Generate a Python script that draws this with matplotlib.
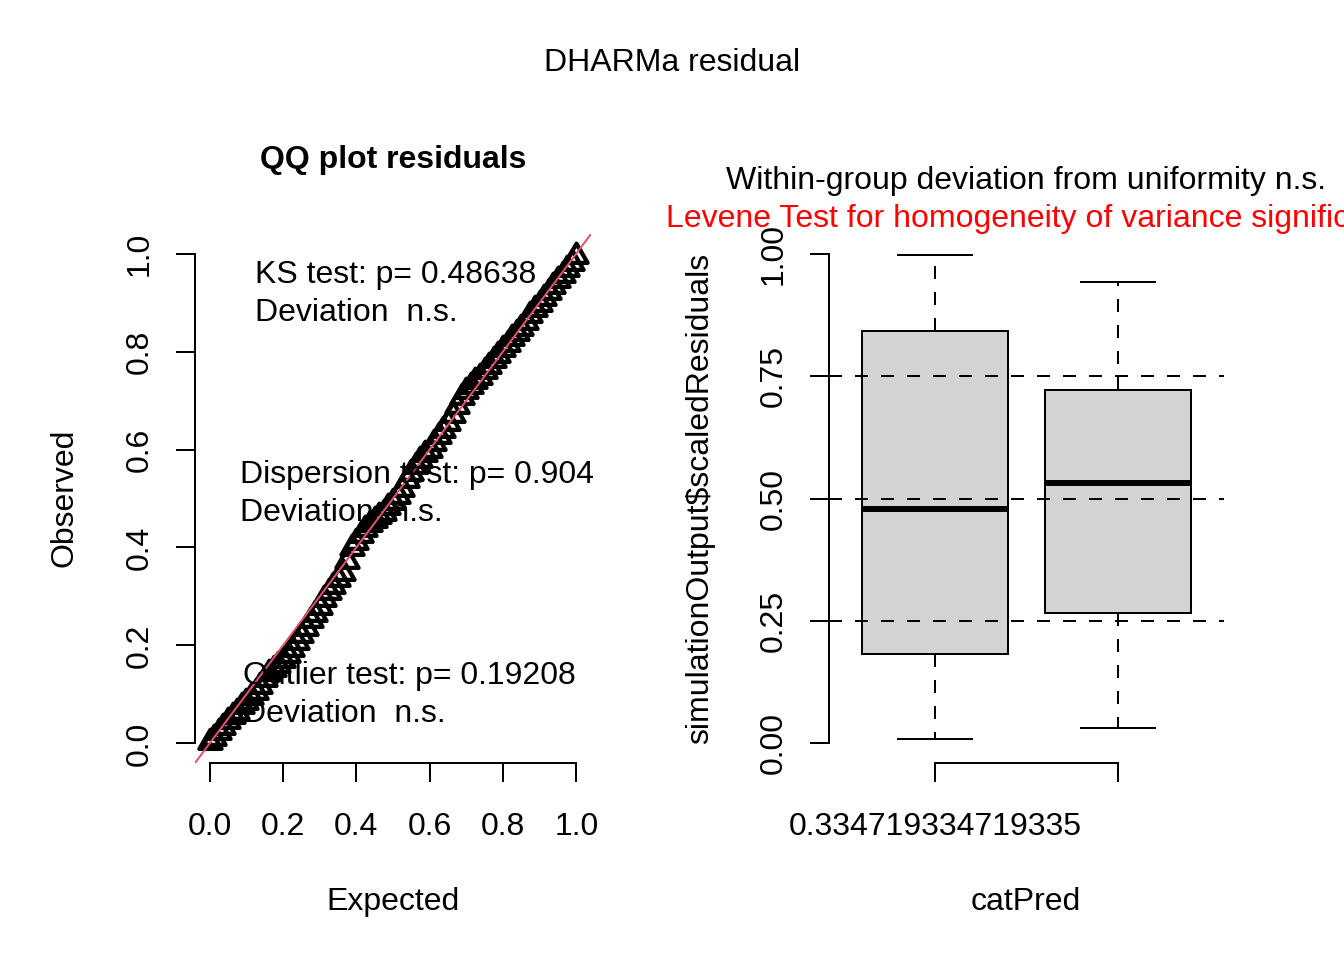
"""
dharma_residuals.py — DHARMa style residual diagnostics: QQ plot + grouped boxplot.
"""

import matplotlib
matplotlib.use("Agg")
import matplotlib.pyplot as plt
from matplotlib.path import Path

plt.rcParams["font.family"] = ["Liberation Sans", "DejaVu Sans"]
plt.rcParams["font.size"] = 12

W, H, DPI = 1344, 960, 192

# QQ plot: expected uniform quantiles vs observed scaled residuals
expected = [
    0.0000, 0.0125, 0.0250, 0.0375, 0.0500, 0.0625, 0.0750, 0.0875, 0.1000, 0.1125,
    0.1250, 0.1375, 0.1500, 0.1625, 0.1750, 0.1875, 0.2000, 0.2125, 0.2250, 0.2375,
    0.2500, 0.2625, 0.2750, 0.2875, 0.3000, 0.3125, 0.3250, 0.3375, 0.3500, 0.3625,
    0.3750, 0.3875, 0.4000, 0.4125, 0.4250, 0.4375, 0.4500, 0.4625, 0.4750, 0.4875,
    0.5000, 0.5125, 0.5250, 0.5375, 0.5500, 0.5625, 0.5750, 0.5875, 0.6000, 0.6125,
    0.6250, 0.6375, 0.6500, 0.6625, 0.6750, 0.6875, 0.7000, 0.7125, 0.7250, 0.7375,
    0.7500, 0.7625, 0.7750, 0.7875, 0.8000, 0.8125, 0.8250, 0.8375, 0.8500, 0.8625,
    0.8750, 0.8875, 0.9000, 0.9125, 0.9250, 0.9375, 0.9500, 0.9625, 0.9750, 0.9875,
    1.0000,
]
observed = [
    0.003, 0.012, 0.023, 0.034, 0.045, 0.055, 0.065, 0.076, 0.085, 0.094,
    0.104, 0.117, 0.131, 0.143, 0.152, 0.161, 0.170, 0.180, 0.193, 0.207,
    0.221, 0.236, 0.251, 0.265, 0.279, 0.294, 0.309, 0.322, 0.335, 0.348,
    0.372, 0.398, 0.411, 0.425, 0.438, 0.448, 0.456, 0.464, 0.471, 0.482,
    0.493, 0.505, 0.520, 0.537, 0.552, 0.567, 0.579, 0.590, 0.600, 0.613,
    0.627, 0.640, 0.655, 0.670, 0.688, 0.707, 0.719, 0.729, 0.739, 0.749,
    0.760, 0.771, 0.782, 0.793, 0.805, 0.816, 0.827, 0.838, 0.848, 0.861,
    0.875, 0.887, 0.898, 0.910, 0.922, 0.934, 0.946, 0.957, 0.969, 0.980,
    0.996,
]
qq_ticks = [0.0, 0.2, 0.4, 0.6, 0.8, 1.0]
qq_tick_labels = ["0.0", "0.2", "0.4", "0.6", "0.8", "1.0"]

ks_lines = ["KS test: p= 0.48638", "Deviation  n.s."]
disp_lines = ["Dispersion test: p= 0.904", "Deviation  n.s."]
outlier_lines = ["Outlier test: p= 0.19208", "Deviation  n.s."]

# Boxplot of residuals by catPred group
group_labels = ["0.334719334719335", ""]
whisker_low = [0.010, 0.031]
q1 = [0.182, 0.266]
median = [0.4785, 0.532]
q3 = [0.8425, 0.722]
whisker_high = [0.998, 0.941]
ref_lines = [0.25, 0.5, 0.75]
box_ticks = [0.0, 0.25, 0.5, 0.75, 1.0]
box_tick_labels = ["0.00", "0.25", "0.50", "0.75", "1.00"]

LW = 0.75          # R lwd=1 at 192 dpi
TICK_LEN = 7.2
DASH = (0, (6.5, 6.5))
RED_LINE = "#DF536B"
BOX_FILL = "#D3D3D3"
LINE_STEP = 38     # px between legend lines


def fx(px):
    return px / W


def fy(py):
    return 1 - py / H


def style_axes(ax, xbounds, ybounds):
    for side in ("top", "right"):
        ax.spines[side].set_visible(False)
    ax.spines["left"].set_bounds(*ybounds)
    ax.spines["bottom"].set_bounds(*xbounds)
    for side in ("left", "bottom"):
        ax.spines[side].set_linewidth(LW)
    ax.tick_params(length=TICK_LEN, width=LW, labelsize=12)
    ax.tick_params(axis="x", pad=11.2)
    ax.tick_params(axis="y", pad=10.5)
    for lab in ax.get_yticklabels():
        lab.set_rotation(90)
        lab.set_rotation_mode("anchor")
        lab.set_horizontalalignment("center")
        lab.set_verticalalignment("baseline")


# equilateral open triangle like R pch=2
tri = Path([(0, 1.155), (-1, -0.577), (1, -0.577), (0, 1.155)],
           [Path.MOVETO, Path.LINETO, Path.LINETO, Path.CLOSEPOLY])


def main() -> None:
    fig = plt.figure(figsize=(W / DPI, H / DPI), dpi=DPI)

    # ---- left: QQ plot ----
    ax1 = fig.add_axes([fx(195), fy(763), fx(591) - fx(195), fy(234) - fy(763)])
    ax1.set_xlim(-0.04, 1.04)
    ax1.set_ylim(-0.04, 1.04)
    ax1.plot(expected, observed, linestyle="none", marker=tri, markersize=9.6,
             markerfacecolor="none", markeredgecolor="black", markeredgewidth=1.6)
    ax1.axline((0, 0), slope=1, color=RED_LINE, linewidth=LW)
    ax1.set_xticks(qq_ticks, qq_tick_labels)
    ax1.set_yticks(qq_ticks, qq_tick_labels)
    style_axes(ax1, (0, 1), (0, 1))

    for lines, x, y in ((ks_lines, 255, 283), (disp_lines, 240, 483), (outlier_lines, 243, 684)):
        for k, line in enumerate(lines):
            fig.text(fx(x), fy(y + k * LINE_STEP), line, ha="left", va="baseline",
                     fontsize=12, zorder=10)

    fig.text(fx(393), fy(168), "QQ plot residuals", ha="center", va="baseline",
             fontsize=12, fontweight="bold")
    fig.text(fx(393), fy(910), "Expected", ha="center", va="baseline", fontsize=12)
    fig.text(fx(72), fy(498), "Observed", ha="center", va="baseline", fontsize=12,
             rotation=90, rotation_mode="anchor")

    # ---- right: boxplot by group ----
    ax2 = fig.add_axes([fx(829), fy(763), fx(1224) - fx(829), fy(234) - fy(763)])
    stats = []
    for i in range(len(group_labels)):
        stats.append({"whislo": whisker_low[i], "q1": q1[i], "med": median[i],
                      "q3": q3[i], "whishi": whisker_high[i], "fliers": []})
    ax2.bxp(stats, positions=[1, 2], widths=0.8, patch_artist=True, showfliers=False,
            boxprops={"facecolor": BOX_FILL, "edgecolor": "black", "linewidth": LW},
            medianprops={"color": "black", "linewidth": 2.25, "solid_capstyle": "butt"},
            whiskerprops={"color": "black", "linewidth": LW, "linestyle": DASH},
            capprops={"color": "black", "linewidth": LW})
    for y in ref_lines:
        ax2.axhline(y, color="black", linewidth=LW, linestyle=DASH, zorder=5)
    ax2.set_xlim(0.42, 2.58)
    ax2.set_ylim(-0.04, 1.04)
    ax2.set_xticks([1, 2], group_labels)
    ax2.set_yticks(box_ticks, box_tick_labels)
    style_axes(ax2, (1, 2), (0, 1))

    fig.text(fx(1026), fy(189), "Within-group deviation from uniformity n.s.",
             ha="center", va="baseline", fontsize=12)
    fig.text(fx(1030), fy(227), "Levene Test for homogeneity of variance significant",
             ha="center", va="baseline", fontsize=12, color="red")
    fig.text(fx(1026), fy(910), "catPred", ha="center", va="baseline", fontsize=12)
    fig.text(fx(708), fy(498), "simulationOutput$scaledResiduals", ha="center",
             va="baseline", fontsize=12, rotation=90, rotation_mode="anchor")

    fig.text(0.5, fy(71), "DHARMa residual", ha="center", va="baseline", fontsize=12)

    fig.savefig("out.png", dpi=DPI)
    plt.close(fig)


if __name__ == "__main__":
    main()
